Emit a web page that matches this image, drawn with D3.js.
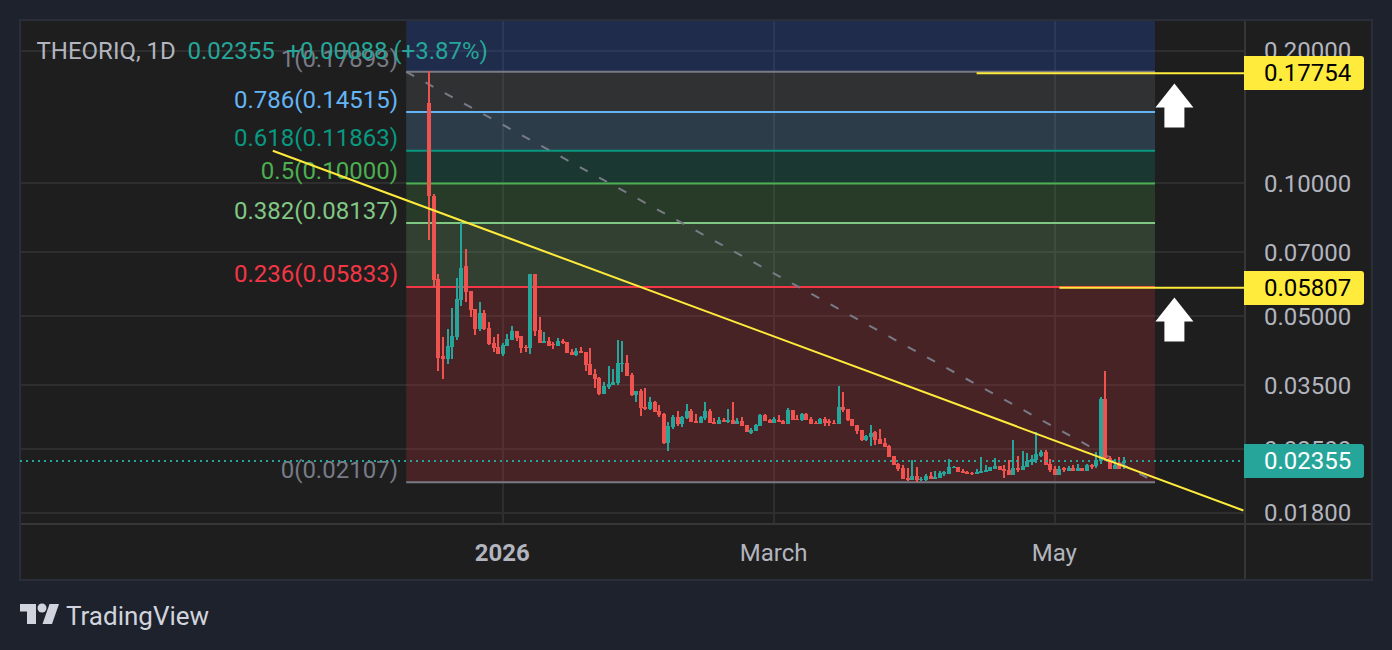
<!DOCTYPE html>
<html>
<head>
<meta charset="utf-8">
<script src="https://cdn.jsdelivr.net/npm/d3@7"></script>
<style>
html,body{margin:0;padding:0;background:#1e222d;overflow:hidden}
svg{display:block}
text{font-family:Roboto,sans-serif}
</style>
</head>
<body>
<div id="chart"></div>
<script>
// daily candles, first one is 2025-12-16
const firstDay = Date.UTC(2025,11,16);
const highs = [.1802,.09467,.06255,.04482,.04673,.05213,.06095,.08118,.0709,.05696,.05186,.05378,.05159,.04846,.04482,.04553,.04344,.04553,.04746,.04624,.04505,.04299,.06223,.06223,.04974,.046,.04482,.04367,.04458,.04435,.04367,.04211,.04233,.04255,.04146,.04233,.03795,.0364,.03547,.03854,.03795,.04412,.04389,.04081,.03717,.03385,.03421,.03439,.03281,.03214,.03147,.03019,.02881,.02988,.03051,.02972,.03164,.03083,.03003,.02972,.03197,.03083,.02941,.02957,.02941,.03083,.03197,.02941,.02957,.02836,.02792,.02851,.03003,.03003,.02926,.02957,.02988,.02911,.03099,.03067,.02988,.03019,.03019,.02957,.02896,.02941,.02957,.02926,.02911,.03474,.03368,.03083,.02926,.02836,.02763,.02692,.02836,.02749,.02778,.0265,.02556,.02414,.02328,.02304,.02268,.02364,.0228,.02165,.02199,.02222,.02233,.02233,.02233,.02376,.02292,.0228,.02256,.02233,.02222,.02256,.02401,.02304,.0228,.02389,.02292,.02304,.02364,.02623,.02414,.02477,.02452,.02426,.02735,.0249,.0249,.02376,.02292,.02292,.0228,.02292,.02304,.02316,.02268,.02316,.02316,.02464,.03281,.03756,.02414,.02376,.02401,.02401];
const lows = [.07468,.05816,.03756,.03603,.03895,.03997,.04412,.05267,.05406,.04974,.04529,.04624,.04649,.04299,.04146,.04103,.0406,.04277,.04412,.04389,.04124,.04146,.04103,.04505,.04344,.04344,.04277,.04211,.04277,.04322,.04124,.04081,.0406,.04124,.03756,.03678,.03439,.03316,.03333,.03421,.03493,.03493,.03736,.03659,.03299,.03197,.02972,.03067,.03067,.03035,.02957,.02569,.02477,.02778,.02821,.02807,.02926,.02881,.02866,.02866,.02911,.02866,.02851,.02851,.02881,.02866,.02851,.02851,.02821,.02735,.02706,.02749,.02821,.02896,.02866,.02866,.02881,.02851,.02851,.02911,.02911,.02896,.02911,.02851,.02851,.02851,.02821,.02821,.02851,.02851,.03035,.02896,.02821,.02706,.02609,.02609,.02542,.02556,.02569,.02529,.02401,.02304,.02233,.02143,.02121,.02132,.0211,.02121,.02121,.02143,.02143,.02154,.02176,.02199,.02268,.02222,.0221,.02199,.02188,.02199,.0221,.02222,.02233,.02256,.02245,.02154,.02188,.02188,.02222,.02245,.0228,.02304,.02328,.02401,.02304,.02222,.02188,.02188,.02222,.02233,.02233,.02233,.02233,.02233,.02256,.02268,.02316,.02352,.02256,.02256,.02256,.02256];
const opens = [.1525,.09393,.06063,.0406,.03997,.04255,.04482,.05435,.06489,.05696,.05186,.04673,.05079,.04697,.04344,.04255,.04103,.04277,.04412,.04624,.04505,.04255,.04233,.06223,.04649,.04344,.04389,.04322,.04277,.04389,.04367,.04146,.04081,.04167,.04146,.03895,.03698,.03622,.03333,.03456,.03493,.03529,.03895,.03915,.03678,.03316,.03385,.03115,.03083,.03197,.03051,.03003,.02582,.02807,.02957,.02851,.02941,.03051,.02896,.02866,.02941,.03051,.02881,.02851,.02911,.02881,.02911,.02851,.02896,.02836,.0272,.02749,.02821,.02988,.02911,.02866,.02911,.02896,.02851,.03067,.02926,.02911,.03003,.02926,.02866,.02851,.02926,.02896,.02866,.02851,.03115,.03083,.02926,.02836,.02763,.02623,.02664,.02735,.02637,.02582,.02542,.02414,.02316,.02268,.02154,.02132,.02176,.02132,.02132,.02176,.02143,.02154,.02199,.02199,.02268,.0228,.02233,.02222,.0221,.02199,.0221,.02222,.02233,.02256,.02292,.02256,.02245,.02188,.02268,.02245,.0228,.0234,.02364,.02414,.02464,.02316,.02256,.02188,.02268,.02233,.02268,.02233,.02268,.02233,.02304,.02292,.02352,.03247,.02389,.02256,.02328,.02328];
const closes = [.09345,.06032,.04018,.03997,.04277,.04505,.05463,.06454,.05666,.05159,.04673,.05079,.04673,.04322,.04233,.04103,.04299,.04435,.04624,.04458,.04233,.04233,.06223,.04624,.04344,.04389,.04277,.04299,.04389,.04344,.04124,.04081,.04167,.04124,.03875,.03678,.03603,.03333,.03474,.03511,.03547,.03915,.03915,.03659,.03316,.03385,.03099,.03083,.03197,.03035,.02988,.02582,.02821,.02957,.02851,.02957,.03051,.02881,.02866,.02957,.03051,.02866,.02851,.02911,.02881,.02911,.02851,.02896,.02821,.02735,.02763,.02836,.02988,.02896,.02866,.02926,.02881,.02851,.03067,.02911,.02911,.03003,.02911,.02851,.02851,.02926,.02866,.02866,.02851,.03115,.03067,.02911,.02821,.02749,.02623,.02678,.0272,.02623,.02569,.02529,.02401,.02304,.02256,.02143,.02132,.02176,.02132,.02143,.02176,.02143,.02165,.0221,.02222,.0228,.0228,.02222,.0221,.02199,.02199,.02222,.02233,.02245,.0228,.02292,.02245,.02233,.02188,.02268,.02245,.02292,.02352,.02376,.02439,.02464,.02304,.02245,.02188,.02256,.02245,.02268,.02233,.02268,.02233,.02304,.0228,.02364,.03247,.02389,.02256,.02304,.02256,.02355];

// fib retracement
const fibLevels = ["1","0.786","0.618","0.5","0.382","0.236","0"];
const fibPrices = [.17893,.14515,.11863,.10000,.08137,.05833,.02107];
const fibColors = ["#787b86","#64b5f6","#089981","#4caf50","#81c784","#f23645","#787b86"];
const fibDays = [Date.UTC(2025,11,11),Date.UTC(2026,4,22,19)];

// drawings
const trendDays = [Date.UTC(2025,10,12),Date.UTC(2026,5,11)];
const trendPrices = [.11863,.01819];
const markPrices = [.17754,.05807];
const markDays = [Date.UTC(2026,3,14),Date.UTC(2026,4,2)];
const arrowDay = Date.UTC(2026,4,27);
const arrowPrices = [.1684,.0552];

const priceTicks = [.2,.1,.07,.05,.035,.025,.018];
const timeTicks = [Date.UTC(2026,0,1),Date.UTC(2026,2,1),Date.UTC(2026,4,1)];
const timeLabels = ["2026","March","May"];
const lastPrice = .02355;

const width = 1392, height = 650;
const pane = {left:21, top:21, right:1245, bottom:524, outerRight:1371, outerBottom:579};

const svg = d3.select("#chart").append("svg").attr("width",width).attr("height",height);

var x = d3.scaleUtc().domain([firstDay,Date.UTC(2026,4,16)]).range([429.2,1123.8]);
var y = d3.scaleLog().domain([.2,.018]).range([50.5,512.5]);

svg.append("rect").attr("x",20).attr("y",20).attr("width",pane.outerRight-19).attr("height",pane.outerBottom-19)
    .attr("fill","#1e1e1e").attr("stroke","#2a2e39").attr("stroke-width",2);

// grid
const grid = svg.append("g").attr("stroke","#2e2e2e").attr("stroke-width",2).attr("shape-rendering","crispEdges");
grid.selectAll(".h").data(priceTicks).enter().append("line").attr("class","h")
    .attr("x1",pane.left).attr("x2",pane.right).attr("y1",d=>y(d)).attr("y2",d=>y(d));
grid.selectAll(".v").data(timeTicks).enter().append("line").attr("class","v")
    .attr("x1",d=>x(d)).attr("x2",d=>x(d)).attr("y1",pane.top).attr("y2",pane.bottom);

// axes frame
svg.append("line").attr("x1",pane.left).attr("x2",pane.outerRight).attr("y1",pane.bottom).attr("y2",pane.bottom)
    .attr("stroke","#363636").attr("stroke-width",2);
svg.append("line").attr("x1",pane.right).attr("x2",pane.right).attr("y1",pane.top).attr("y2",pane.outerBottom)
    .attr("stroke","#363636").attr("stroke-width",2);

// fib bands, each takes the colour of its upper level
const fibX1 = x(fibDays[0]), fibX2 = x(fibDays[1]);
svg.append("rect").attr("x",fibX1).attr("width",fibX2-fibX1).attr("y",pane.top).attr("height",y(fibPrices[0])-pane.top)
    .attr("fill","#2962ff").attr("fill-opacity",.2);
fibPrices.slice(0,-1).forEach(function(p,i){
    svg.append("rect").attr("x",fibX1).attr("width",fibX2-fibX1)
        .attr("y",y(p)).attr("height",y(fibPrices[i+1])-y(p))
        .attr("fill",fibColors[i]).attr("fill-opacity",.2);
});
svg.selectAll(".fibline").data(fibPrices).enter().append("line").attr("class","fibline")
    .attr("x1",fibX1).attr("x2",fibX2).attr("y1",d=>y(d)).attr("y2",d=>y(d))
    .attr("stroke",(d,i)=>fibColors[i]).attr("stroke-width",2);
svg.selectAll(".fiblabel").data(fibPrices).enter().append("text").attr("class","fiblabel")
    .attr("x",398).attr("y",d=>y(d)-4.5).attr("text-anchor","end")
    .attr("font-size",24).attr("fill",(d,i)=>fibColors[i])
    .text((d,i)=>fibLevels[i]+"("+d3.format(".5f")(d)+")");
svg.append("line").attr("x1",fibX1).attr("y1",y(fibPrices[0])).attr("x2",fibX2).attr("y2",y(fibPrices[6]))
    .attr("stroke","#787b86").attr("stroke-width",2).attr("stroke-dasharray","9 13");

// candles
const candles = svg.append("g").attr("shape-rendering","crispEdges");
opens.forEach(function(o,i){
    let day = firstDay + i*86400000;
    let cx = Math.round(x(day));
    let color = closes[i] >= o ? "#26a69a" : "#ef5350";
    candles.append("rect").attr("x",cx-1).attr("width",2).attr("y",y(highs[i]))
        .attr("height",y(lows[i])-y(highs[i])).attr("fill",color);
    candles.append("rect").attr("x",cx-2).attr("width",4).attr("y",y(Math.max(o,closes[i])))
        .attr("height",Math.max(1,Math.abs(y(o)-y(closes[i])))).attr("fill",color);
});

// last price
svg.append("line").attr("x1",20).attr("x2",pane.right-4).attr("y1",y(lastPrice)).attr("y2",y(lastPrice))
    .attr("stroke","#26a69a").attr("stroke-width",2).attr("stroke-dasharray","2 4");

// trend line
svg.append("line").attr("x1",x(trendDays[0])).attr("y1",y(trendPrices[0]))
    .attr("x2",x(trendDays[1])).attr("y2",y(trendPrices[1]))
    .attr("stroke","#ffeb3b").attr("stroke-width",2);

// header
const header = svg.append("g").attr("font-size",24);
header.append("text").attr("x",36.5).attr("y",59).attr("fill","#b2b5be").text("THEORIQ, 1D");
header.append("text").attr("x",187.5).attr("y",59).attr("fill","#26a69a").text(d3.format(".5f")(lastPrice));
header.append("text").attr("x",286.5).attr("y",59).attr("fill","#26a69a").text("+0.00088 (+3.87%)");

// price axis
const yAxis = d3.axisRight(y).tickValues(priceTicks).tickSize(0).tickPadding(19).tickFormat(d3.format(".5f"));
const yg = svg.append("g").attr("transform","translate("+pane.right+",0)").call(yAxis);
yg.select(".domain").remove();
yg.selectAll("text").attr("font-size",24).attr("font-family","Roboto").attr("fill","#b2b5be").attr("dy",".35em");

// time axis
const xAxis = d3.axisBottom(x).tickValues(timeTicks).tickSize(0).tickPadding(20).tickFormat((d,i)=>timeLabels[i]);
const xg = svg.append("g").attr("transform","translate(-1,"+pane.bottom+")").call(xAxis);
xg.select(".domain").remove();
xg.selectAll("text").attr("font-size",24).attr("font-family","Roboto").attr("fill","#b2b5be")
    .attr("font-weight",(d,i)=>i==0?"bold":"normal");

// yellow marks + arrows
markPrices.forEach(function(p,i){
    svg.append("line").attr("x1",x(markDays[i])).attr("x2",pane.right).attr("y1",y(p)).attr("y2",y(p))
        .attr("stroke","#ffeb3b").attr("stroke-width",2);
    priceBadge(p,"#ffeb3b","#000");
    let ax = x(arrowDay), ay = y(arrowPrices[i]);
    svg.append("path").attr("fill","#fff")
        .attr("d","M"+ax+","+ay+"l19,24h-9v20h-20v-20h-9z");
});
priceBadge(lastPrice,"#26a69a","#fff");

function priceBadge(p,bg,fg){
    let cy = Math.round(y(p));
    svg.append("path").attr("fill",bg)
        .attr("d","M"+(pane.right-1)+","+(cy-17)+"h117a3,3 0 0 1 3,3v28a3,3 0 0 1 -3,3h-117z");
    svg.append("text").attr("x",1264).attr("y",cy).attr("dy",".35em").attr("font-size",24)
        .attr("fill",fg).text(d3.format(".5f")(p));
}

// logo
const logo = svg.append("g").attr("fill","#d1d4dc");
logo.append("path").attr("d","M20,604H36V624H27V611.5H20Z");
logo.append("circle").attr("cx",42).attr("cy",608).attr("r",4.5);
logo.append("path").attr("d","M49.5,604H59L52,624H42.5Z");
svg.append("text").attr("x",66).attr("y",625).attr("font-size",26).attr("fill","#d1d4dc").text("TradingView");
</script>
</body>
</html>
